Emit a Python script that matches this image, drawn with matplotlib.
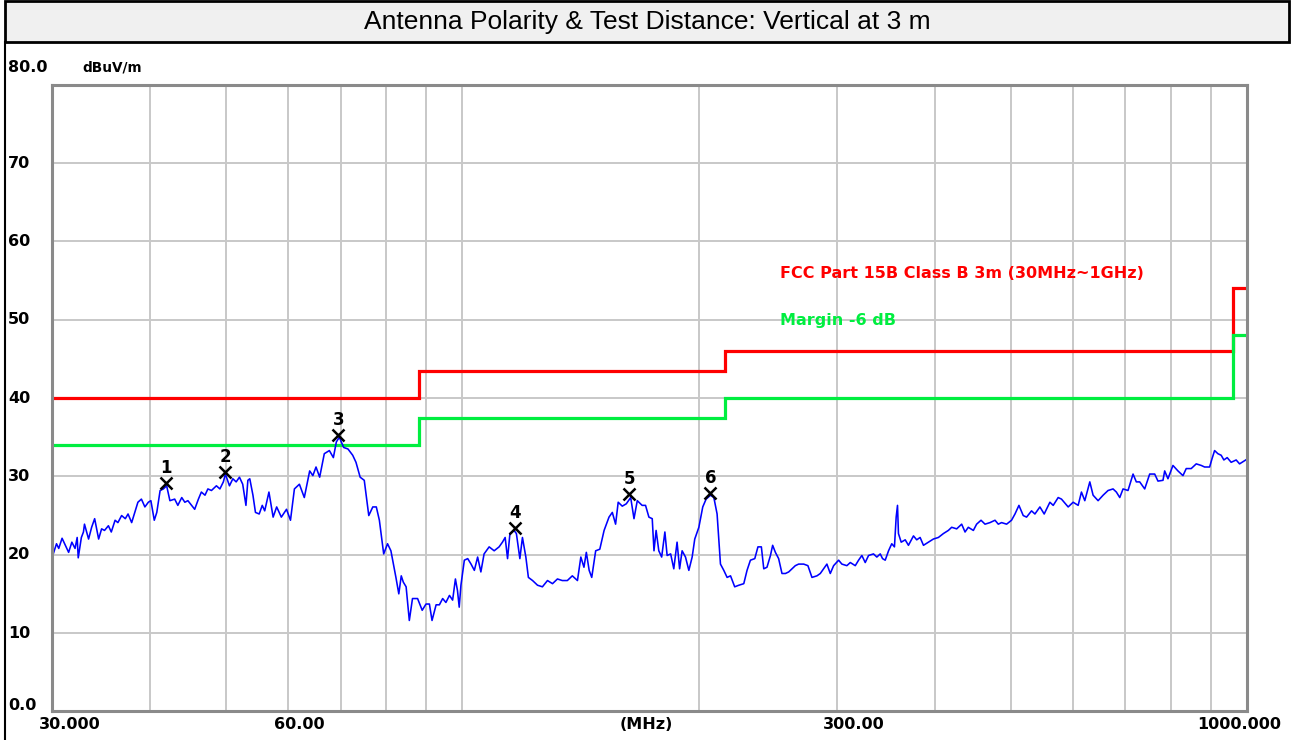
import matplotlib
matplotlib.use("Agg")
import matplotlib.pyplot as plt
import matplotlib.transforms as mtransforms
from matplotlib.lines import Line2D
from matplotlib.patches import Rectangle
from matplotlib.ticker import NullLocator

freq_a = [30.0, 30.4, 30.6, 30.9, 31.2, 31.5, 31.8, 32.1, 32.3, 32.4, 32.7, 32.9, 33.0, 33.4,
          33.7, 34.0, 34.4, 34.7, 35.0, 35.4, 35.7, 36.1, 36.4, 36.8, 37.2, 37.5, 37.9, 38.3,
          38.6, 39.0, 39.4, 39.8, 40.1, 40.5, 40.8, 41.2, 41.6, 42.0, 42.4, 43.0, 43.4, 43.9,
          44.3, 44.7, 45.6, 46.1, 46.5, 47.0, 47.4, 47.9, 48.6, 49.1, 49.6, 49.9, 50.5, 51.0,
          51.5, 52.0, 52.5, 53.0, 53.3, 53.6, 54.1, 54.5, 55.1, 55.6, 56.0, 56.7, 57.4, 58.0,
          58.8, 59.7]
level_a = [19.6, 21.4, 20.8, 22.1, 21.2, 20.3, 21.6, 20.8, 22.2, 19.6, 22.2, 22.9, 23.9, 22.0,
           23.5, 24.6, 22.0, 23.3, 23.1, 23.7, 22.9, 24.4, 24.1, 25.0, 24.6, 25.2, 24.1, 25.6,
           26.7, 27.1, 26.1, 26.7, 26.9, 24.4, 25.4, 28.2, 28.4, 28.8, 26.9, 27.1, 26.3, 27.3,
           26.7, 26.9, 25.8, 27.1, 28.0, 27.6, 28.4, 28.2, 28.8, 28.4, 29.3, 30.3, 28.8, 29.7,
           29.3, 29.9, 29.0, 26.3, 29.5, 29.7, 27.6, 25.4, 25.2, 26.3, 25.6, 28.0, 24.8, 26.1,
           24.8, 25.8]

freq_b = [60.4, 61.1, 62.0, 62.9, 63.9, 64.5, 65.1, 65.8, 66.7, 67.7, 68.5, 69.1, 69.7, 70.6,
          71.5, 72.5, 73.2, 74.1, 75.0, 76.0, 76.9, 77.7, 78.4, 79.4, 80.3, 81.1, 82.3, 83.0,
          83.6, 84.1, 84.8, 85.6, 86.4, 87.7, 88.9, 89.9, 90.8, 91.5, 92.6, 93.5, 94.4, 95.3,
          96.3, 97.2, 98.0, 98.6, 99.1, 99.6]
level_b = [24.4, 28.4, 29.0, 27.3, 30.7, 30.1, 31.2, 29.9, 32.9, 33.3, 32.4, 34.4, 35.0, 33.7,
           33.5, 32.7, 31.8, 29.9, 29.5, 25.0, 26.1, 26.1, 24.4, 20.1, 21.4, 20.5, 17.1, 15.0,
           17.3, 16.5, 15.9, 11.6, 14.4, 14.4, 12.9, 13.7, 13.7, 11.6, 13.6, 13.6, 14.4, 13.9,
           14.8, 14.2, 16.9, 15.4, 13.3, 16.1]

freq_c = [100.6, 101.6, 102.6, 103.6, 104.6, 105.6, 106.6, 108.2, 109.8, 111.4, 112.5, 113.4,
          114.2, 115.0, 116.4, 117.2, 118.4, 119.3, 120.5, 121.4, 122.9, 124.7, 126.5, 128.4,
          130.3, 132.2, 134.1, 136.1, 138.1, 140.2, 141.6, 142.9, 143.9, 145.1, 146.2, 147.9,
          149.7, 151.6, 153.8, 155.3, 156.8, 158.0, 159.9, 161.8, 163.9, 165.5, 167.1, 169.5,
          171.2, 172.9, 174.6, 175.5, 176.6, 178.0, 179.5, 181.2, 182.4, 184.3, 186.0, 187.8,
          189.2, 190.6, 192.5, 194.4, 196.3, 197.8]
level_c = [19.3, 19.5, 18.8, 18.0, 19.7, 17.8, 20.1, 21.0, 20.5, 21.0, 21.6, 22.2,
           19.5, 22.7, 23.1, 22.7, 19.5, 22.2, 19.7, 17.1, 16.7, 16.1, 15.9, 16.7,
           16.3, 16.9, 16.7, 16.7, 17.3, 16.7, 19.7, 18.4, 20.3, 18.0, 17.1, 20.5,
           20.7, 23.1, 24.8, 25.4, 23.9, 26.7, 26.2, 26.5, 27.3, 24.6, 26.9, 26.3,
           26.3, 24.8, 24.6, 20.5, 23.1, 20.5, 19.7, 22.9, 19.9, 20.1, 18.2, 21.6,
           18.2, 20.5, 19.7, 18.0, 19.7, 22.0]

freq_d = [200.2, 202.5, 204.5, 207.2, 209.2, 211.2, 213.3, 215.4, 217.5, 219.7, 222.4, 225.1,
          228.4, 230.6, 232.9, 235.9, 238.1, 240.5, 242.2, 244.5, 247.0, 248.6, 250.6, 253.0,
          255.5, 258.1, 260.6, 263.1, 265.7, 268.3, 272.3, 275.7, 279.0, 283.1, 285.9, 288.7,
          291.5, 294.4, 297.3, 301.7, 304.6, 309.1, 312.2, 316.8, 319.9, 323.0, 326.2, 329.4,
          334.2, 337.5, 340.9, 343.2, 345.9, 349.3, 352.6, 355.4, 357.2, 358.6, 359.6, 362.5,
          366.8, 370.3, 375.8, 379.4, 383.2, 387.0, 392.7, 398.4]
level_d = [23.5, 26.1, 27.1, 27.6, 27.3, 25.2, 18.8, 18.0, 17.1, 17.3, 15.9, 16.1,
           16.3, 18.0, 19.3, 19.5, 21.0, 21.0, 18.2, 18.4, 19.9, 21.2, 20.3, 19.5,
           17.6, 17.6, 17.8, 18.2, 18.6, 18.8, 18.8, 18.6, 17.1, 17.3, 17.6, 18.2,
           18.8, 17.6, 18.6, 19.3, 18.8, 18.6, 19.0, 18.6, 19.3, 19.9, 19.0, 19.9,
           20.1, 19.7, 20.1, 19.5, 19.3, 20.5, 21.4, 21.0, 24.8, 26.3, 22.7, 21.6,
           21.9, 21.2, 22.4, 21.9, 22.2, 21.2, 21.6, 22.0]

freq_e = [404.3, 410.3, 416.3, 420.4, 426.6, 432.9, 437.2, 441.4, 448.0, 452.3, 458.2, 463.6,
          470.4, 477.4, 482.0, 486.7, 493.9, 501.1, 506.2, 512.1, 518.6, 523.7, 531.4, 536.7,
          544.6, 551.5, 560.8, 566.3, 574.6, 580.2, 591.7, 600.4, 609.3, 615.2, 621.3, 630.5,
          636.6, 646.0, 655.6, 665.2, 675.0, 681.6, 688.4, 695.1, 705.3, 715.8, 722.7, 729.9,
          740.7, 751.6, 762.7, 770.1, 781.5, 785.4, 793.0, 804.7, 816.6, 828.7, 836.7, 849.0,
          861.6, 874.3, 883.0, 896.1, 902.1, 909.3, 918.1, 927.0, 934.4, 943.5, 954.6, 968.7,
          978.4, 1000.0]
level_e = [22.2, 22.7, 23.1, 23.5, 23.3, 23.9, 22.9, 23.5, 23.1, 23.9, 24.4, 23.9,
           24.1, 24.4, 23.9, 24.1, 23.9, 24.4, 25.2, 26.3, 25.0, 24.8, 25.6, 25.2,
           26.1, 25.2, 26.7, 26.3, 27.3, 27.1, 26.1, 26.7, 26.3, 28.0, 26.9, 29.3,
           27.6, 26.9, 27.6, 28.2, 28.4, 28.0, 27.3, 28.4, 28.2, 30.3, 29.3, 29.3,
           28.4, 30.3, 30.3, 29.4, 29.5, 30.7, 29.7, 31.4, 30.7, 30.1, 31.0, 31.0,
           31.6, 31.4, 31.2, 31.2, 32.2, 33.3, 32.9, 32.7, 32.1, 32.4, 31.8, 32.1,
           31.6, 32.2]

# FCC Part 15B class B 3 m limit and -6 dB margin
limit_edges = [30, 88, 216, 960, 1000]
limit_level = [40.0, 43.5, 46.0, 54.0]
margin_level = [34.0, 37.5, 40.0, 48.0]

# peak markers
mk_freq = [41.9, 49.9, 69.5, 116.8, 163.1, 207.1]
mk_level = [29.2, 30.6, 35.3, 23.4, 27.8, 27.9]

grid_freq = [40, 50, 60, 70, 80, 90, 100, 200, 300, 400, 500, 600, 700, 800, 900]
y_ticks = [0, 10, 20, 30, 40, 50, 60, 70, 80]
y_labels = ['0.0', '10', '20', '30', '40', '50', '60', '70', '80.0']
x_ticks = [30, 60, 300, 1000]
x_labels = ['30.000', '60.00', '300.00', '1000.000']

freq = freq_a + freq_b + freq_c + freq_d + freq_e
level = level_a + level_b + level_c + level_d + level_e

W, H = 1294, 740
fig = plt.figure(figsize=(W / 100, H / 100), dpi=100)
ax = fig.add_axes([52 / W, 28.7 / H, 1195 / W, 626.4 / H])

ax.set_xscale('log')
ax.set_xlim(30, 1000)
ax.set_ylim(0, 80)
ax.set_xticks(grid_freq)
ax.xaxis.set_minor_locator(NullLocator())
ax.set_yticks(y_ticks[1:-1])
ax.tick_params(length=0, labelbottom=False, labelleft=False)
ax.grid(True, color='#c8c8c8', lw=1.4)
ax.set_axisbelow(True)
for sp in ax.spines.values():
    sp.set_color('#8a8a8a')
    sp.set_linewidth(2.2)

ax.stairs(limit_level, limit_edges, baseline=None, color='#ff0000', lw=2.3)
ax.stairs(margin_level, limit_edges, baseline=None, color='#00ee40', lw=2.3)
ax.plot(freq, level, color='#0000ff', lw=1.15)
ax.plot(mk_freq, mk_level, 'x', color='black', ms=9, mew=1.8)
for i, (f, l) in enumerate(zip(mk_freq, mk_level)):
    ax.annotate(str(i + 1), (f, l), xytext=(0, 15), textcoords='offset pixels',
                ha='center', va='center', fontsize=12, fontweight='bold', family='DejaVu Sans')

tick_font = dict(fontsize=11.5, fontweight='bold', family='DejaVu Sans')

# y labels, left aligned at the figure edge (0 and 80 sit a bit higher)
trans_y = mtransforms.blended_transform_factory(fig.transFigure, ax.transData)
y_dy = {0: 6, 80: 17}
for v, lab in zip(y_ticks, y_labels):
    ax.annotate(lab, (8 / W, v), xycoords=trans_y, xytext=(0, y_dy.get(v, 0)),
                textcoords='offset pixels', ha='left', va='center', annotation_clip=False, **tick_font)

trans_x = mtransforms.blended_transform_factory(ax.transData, ax.transAxes)
x_dx = [18, 11, 17, -8]
for f, lab, dx in zip(x_ticks, x_labels, x_dx):
    ax.annotate(lab, (f, 0), xycoords=trans_x, xytext=(dx, -13), textcoords='offset pixels',
                ha='center', va='center', annotation_clip=False, **tick_font)
ax.annotate('(MHz)', (0.497, 0), xycoords='axes fraction', xytext=(0, -13),
            textcoords='offset pixels', ha='center', va='center', **tick_font)
ax.annotate('dBuV/m', (0, 1), xycoords='axes fraction', xytext=(30, 17),
            textcoords='offset pixels', ha='left', va='center',
            fontsize=9.8, fontweight='bold', family='DejaVu Sans')

fig.text(780 / W, 1 - 273 / H, 'FCC Part 15B Class B 3m (30MHz~1GHz)', color='#ff0000',
         ha='left', va='center', fontsize=11.5, fontweight='bold', family='DejaVu Sans')
fig.text(780 / W, 1 - 320 / H, 'Margin -6 dB', color='#00ee40',
         ha='left', va='center', fontsize=11.5, fontweight='bold', family='DejaVu Sans')

# title bar and outer frame
fig.patches.append(Rectangle((5 / W, 698 / H), 1284 / W, 40.5 / H, transform=fig.transFigure,
                             facecolor='#f0f0f0', edgecolor='black', lw=2))
fig.lines.append(Line2D([5 / W, 5 / W], [0, 698 / H], transform=fig.transFigure,
                        color='black', lw=1.5))
fig.text(0.5, 1 - 22 / H, 'Antenna Polarity & Test Distance: Vertical at 3 m',
         ha='center', va='center', fontsize=19, family='Liberation Sans')

fig.savefig('out.png', dpi=100)
